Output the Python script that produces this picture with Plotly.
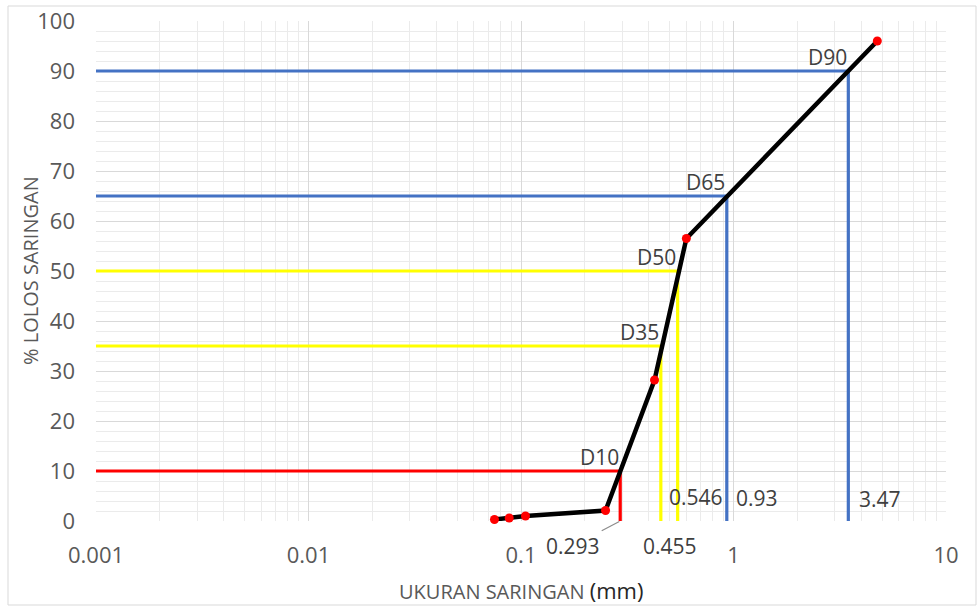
import numpy as np
import plotly.graph_objects as go

# ---- data ----
sieve_mm = [0.075, 0.088, 0.105, 0.25, 0.425, 0.6, 4.75]
passing_pct = [0.3, 0.6, 1.0, 2.1, 28.2, 56.5, 96.0]

d_labels = ["D10", "D35", "D50", "D65", "D90"]
d_pct = [10, 35, 50, 65, 90]
d_size = [0.293, 0.455, 0.546, 0.93, 3.47]
d_colors = ["#FF0000", "#FFFF00", "#FFFF00", "#4472C4", "#4472C4"]

x_ticks = [0.001, 0.01, 0.1, 1, 10]
x_ticktext = ["0.001", "0.01", "0.1", "1", "10"]
y_ticks = list(range(0, 101, 10))

FONT = "Open Sans"
GRAY = "#595959"

fig = go.Figure()

# reference lines
for lab, p, s, c in zip(d_labels, d_pct, d_size, d_colors):
    fig.add_trace(go.Scatter(x=[x_ticks[0], s, s], y=[p, p, 0], mode="lines",
                             line=dict(color=c, width=3.2), showlegend=False,
                             hoverinfo="skip", cliponaxis=False))

# gradation curve
fig.add_trace(go.Scatter(x=sieve_mm, y=passing_pct, mode="lines+markers",
                         line=dict(color="black", width=4.5),
                         marker=dict(color="#FF0000", size=9),
                         showlegend=False, cliponaxis=False))

# D labels
for lab, p, s in zip(d_labels, d_pct, d_size):
    fig.add_annotation(x=np.log10(s), y=p, text=lab, showarrow=False,
                       xanchor="center", yanchor="middle", xshift=-21, yshift=14,
                       font=dict(family=FONT, size=21, color="#404040"))

# value labels
val_font = dict(family=FONT, size=21, color="#404040")
fig.add_annotation(x=np.log10(d_size[0]), y=0, text="0.293", showarrow=True,
                   arrowhead=0, arrowwidth=1.2, arrowcolor="#8C8C8C",
                   ax=-47, ay=25, font=val_font, standoff=1)
fig.add_annotation(x=np.log10(d_size[1]), y=0, text="0.455", showarrow=False,
                   xanchor="center", yanchor="middle", xshift=9, yshift=-25,
                   font=val_font)
fig.add_annotation(x=np.log10(d_size[2]), y=0, text="0.546", showarrow=False,
                   xanchor="center", yanchor="middle", xshift=18, yshift=24,
                   font=val_font)
fig.add_annotation(x=np.log10(d_size[3]), y=0, text="0.93", showarrow=False,
                   xanchor="center", yanchor="middle", xshift=30, yshift=23,
                   font=val_font)
fig.add_annotation(x=np.log10(d_size[4]), y=0, text="3.47", showarrow=False,
                   xanchor="center", yanchor="middle", xshift=32, yshift=22,
                   font=val_font)

# minor grid values
x_minor = [m * 10.0 ** k for k in range(-3, 1) for m in range(2, 10)]

L, R, T, B = 96, 31, 21, 85
W, H = 977, 606
pw, ph = W - L - R, H - T - B

def px_x(px):
    return (px - L) / pw

def px_y(py):
    return (T + ph - py) / ph

fig.add_shape(type="rect", xref="paper", yref="paper",
              x0=px_x(8), x1=px_x(976), y0=px_y(605), y1=px_y(6),
              line=dict(color="#D9D9D9", width=1), layer="below")

# axis titles
fig.add_annotation(xref="paper", yref="paper", x=px_x(30), y=0.5,
                   text="% LOLOS SARINGAN", textangle=-90, showarrow=False,
                   xanchor="center", yanchor="middle",
                   font=dict(family=FONT, size=20, color=GRAY))
fig.add_annotation(xref="paper", yref="paper", x=px_x(521), y=px_y(590),
                   text="UKURAN SARINGAN <span style='color:#262626;font-size:22px'>(mm)</span>",
                   showarrow=False, xanchor="center", yanchor="middle",
                   font=dict(family=FONT, size=20, color=GRAY))

fig.update_layout(
    width=W, height=H,
    margin=dict(l=L, r=R, t=T, b=B, autoexpand=False),
    paper_bgcolor="white", plot_bgcolor="white",
    font=dict(family=FONT, color=GRAY),
    xaxis=dict(type="log", range=[-3, 1], tickvals=x_ticks, ticktext=x_ticktext,
               showgrid=True, gridcolor="#D9D9D9", gridwidth=1,
               minor=dict(tickvals=x_minor, showgrid=True, gridcolor="#EBEBEB", ticks=""),
               zeroline=False, showline=False,
               ticks="outside", ticklen=6, tickcolor="rgba(0,0,0,0)",
               automargin=False,
               tickfont=dict(family=FONT, size=22, color=GRAY),
               ticklabelstandoff=9),
    yaxis=dict(range=[0, 100], tickvals=y_ticks,
               showgrid=True, gridcolor="#D9D9D9", gridwidth=1,
               minor=dict(dtick=2, showgrid=True, gridcolor="#EBEBEB", ticks=""),
               zeroline=False, showline=False, ticks="", automargin=False,
               tickfont=dict(family=FONT, size=22, color=GRAY),
               ticklabelstandoff=20),
)

fig.write_html("out.html")
